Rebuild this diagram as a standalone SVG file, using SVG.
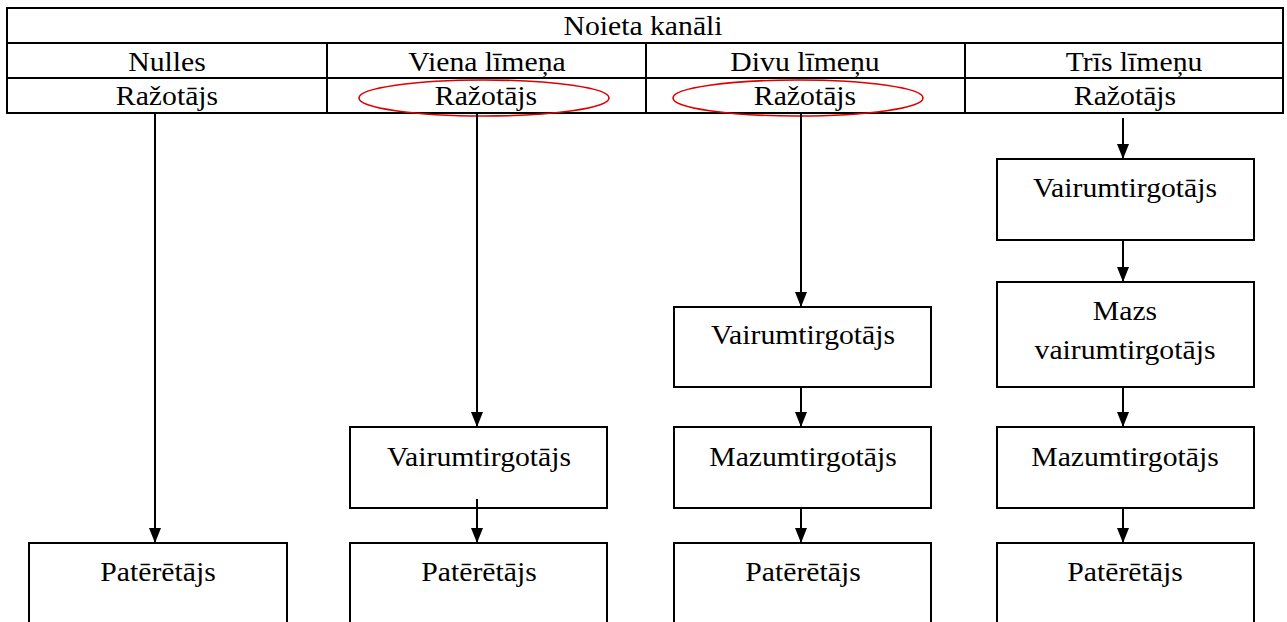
<svg xmlns="http://www.w3.org/2000/svg" width="1287" height="622" viewBox="0 0 1287 622">
<defs>
<style>
.t{font-family:"Liberation Serif","Times New Roman",serif;font-size:27px;fill:#000;text-anchor:middle}
.ln{stroke:#000;stroke-width:2;fill:none}
.box{stroke:#000;stroke-width:2;fill:#fff}
.red{stroke:#e00000;stroke-width:1.6;fill:none}
</style>
</defs>
<rect width="1287" height="622" fill="#fff"/>
<g id="table">
<rect x="7" y="8" width="1276" height="105" class="ln"/>
<line x1="7" y1="43" x2="1283" y2="43" class="ln"/>
<line x1="7" y1="78" x2="1283" y2="78" class="ln"/>
<line x1="327" y1="43" x2="327" y2="113" class="ln"/>
<line x1="646" y1="43" x2="646" y2="113" class="ln"/>
<line x1="965" y1="43" x2="965" y2="113" class="ln"/>
<text class="t" transform="translate(643 35) scale(1.1 1)">Noieta kanāli</text>
<text class="t" transform="translate(167 70.5) scale(1.1 1)">Nulles</text>
<text class="t" transform="translate(487 70.5) scale(1.1 1)">Viena līmeņa</text>
<text class="t" transform="translate(805 70.5) scale(1.1 1)">Divu līmeņu</text>
<text class="t" transform="translate(1134 70.5) scale(1.1 1)">Trīs līmeņu</text>
<text class="t" transform="translate(167 104.5) scale(1.1 1)">Ražotājs</text>
<text class="t" transform="translate(486 104.5) scale(1.1 1)">Ražotājs</text>
<text class="t" transform="translate(805 104.5) scale(1.1 1)">Ražotājs</text>
<text class="t" transform="translate(1125 104.5) scale(1.1 1)">Ražotājs</text>
<ellipse cx="484" cy="98" rx="125" ry="18" class="red"/>
<ellipse cx="798" cy="98" rx="125" ry="18" class="red"/>
</g>
<g id="connectors">
<path d="M155,114 V543" class="ln"/>
<path d="M477,114 V427" class="ln"/>
<path d="M477,499 V543" class="ln"/>
<path d="M801,114 V307" class="ln"/>
<path d="M801,387 V427" class="ln"/>
<path d="M801,508 V543" class="ln"/>
<path d="M1123,118 V159" class="ln"/>
<path d="M1123,240 V282" class="ln"/>
<path d="M1123,387 V427" class="ln"/>
<path d="M1123,508 V543" class="ln"/>
<g fill="#000">
<path d="M149,528 L161,528 L155,543 Z"/>
<path d="M471,412 L483,412 L477,427 Z"/>
<path d="M471,528 L483,528 L477,543 Z"/>
<path d="M795,292 L807,292 L801,307 Z"/>
<path d="M795,412 L807,412 L801,427 Z"/>
<path d="M795,528 L807,528 L801,543 Z"/>
<path d="M1117,144 L1129,144 L1123,159 Z"/>
<path d="M1117,267 L1129,267 L1123,282 Z"/>
<path d="M1117,412 L1129,412 L1123,427 Z"/>
<path d="M1117,528 L1129,528 L1123,543 Z"/>
</g>
</g>
<g id="n0-consumer"><rect x="29" y="543" width="258" height="90" class="box" fill-opacity="0"/><text class="t" transform="translate(158 581) scale(1.1 1)">Patērētājs</text></g>
<g id="n1-wholesaler"><rect x="350" y="427" width="257" height="81" class="box" fill-opacity="0"/><text class="t" transform="translate(479 466) scale(1.1 1)">Vairumtirgotājs</text></g>
<g id="n1-consumer"><rect x="350" y="543" width="257" height="90" class="box"/><text class="t" transform="translate(479 581) scale(1.1 1)">Patērētājs</text></g>
<g id="n2-wholesaler"><rect x="674" y="307" width="257" height="80" class="box"/><text class="t" transform="translate(803 344) scale(1.1 1)">Vairumtirgotājs</text></g>
<g id="n2-retailer"><rect x="674" y="427" width="257" height="81" class="box"/><text class="t" transform="translate(803 466) scale(1.1 1)">Mazumtirgotājs</text></g>
<g id="n2-consumer"><rect x="674" y="543" width="257" height="90" class="box"/><text class="t" transform="translate(803 581) scale(1.1 1)">Patērētājs</text></g>
<g id="n3-wholesaler"><rect x="997" y="159" width="257" height="81" class="box"/><text class="t" transform="translate(1125 197) scale(1.1 1)">Vairumtirgotājs</text></g>
<g id="n3-small-wholesaler"><rect x="997" y="282" width="257" height="105" class="box"/><text class="t" transform="translate(1125 320) scale(1.1 1)">Mazs</text><text class="t" transform="translate(1125 359) scale(1.1 1)">vairumtirgotājs</text></g>
<g id="n3-retailer"><rect x="997" y="427" width="257" height="81" class="box"/><text class="t" transform="translate(1125 466) scale(1.1 1)">Mazumtirgotājs</text></g>
<g id="n3-consumer"><rect x="997" y="543" width="257" height="90" class="box"/><text class="t" transform="translate(1125 581) scale(1.1 1)">Patērētājs</text></g>
</svg>
